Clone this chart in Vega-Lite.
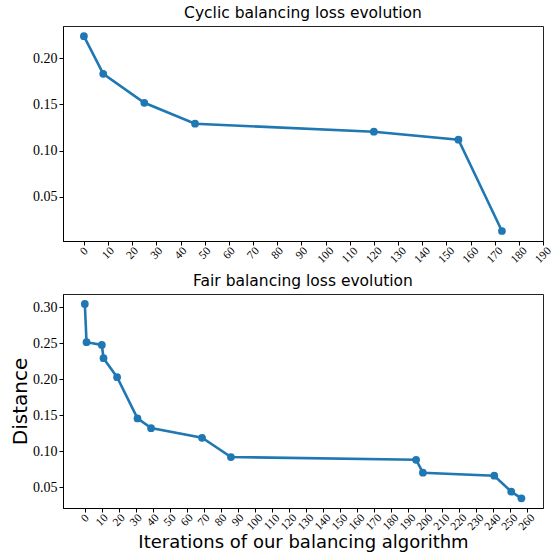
{
  "$schema": "https://vega.github.io/schema/vega-lite/v6.json",
  "background": "white",
  "padding": {"left": 10, "top": 5, "right": 5, "bottom": 0},
  "spacing": 7,
  "config": {
    "view": {"stroke": "#222", "strokeWidth": 1},
    "title": {"font": "DejaVu Sans", "fontSize": 15.5, "fontWeight": "normal", "color": "#000", "frame": "group", "anchor": "middle", "offset": 5},
    "axis": {
      "domainColor": "#000", "tickColor": "#000", "tickSize": 4, "grid": false,
      "labelColor": "#000", "labelFont": "Liberation Serif",
      "titleFont": "DejaVu Sans", "titleFontWeight": "normal", "titleColor": "#000", "titleFontSize": 18
    }
  },
  "datasets": {
    "cyclic": [
      {"iteration": 0, "distance": 0.2236},
      {"iteration": 8, "distance": 0.183},
      {"iteration": 25, "distance": 0.1517},
      {"iteration": 46, "distance": 0.1291},
      {"iteration": 120, "distance": 0.1204},
      {"iteration": 155, "distance": 0.1118},
      {"iteration": 173, "distance": 0.0132}
    ],
    "fair": [
      {"iteration": 0, "distance": 0.3046},
      {"iteration": 1, "distance": 0.2514},
      {"iteration": 10, "distance": 0.2476},
      {"iteration": 11, "distance": 0.2292},
      {"iteration": 19, "distance": 0.2028},
      {"iteration": 31, "distance": 0.1454},
      {"iteration": 39, "distance": 0.1319},
      {"iteration": 69, "distance": 0.1185},
      {"iteration": 86, "distance": 0.0917},
      {"iteration": 195, "distance": 0.0879},
      {"iteration": 199, "distance": 0.0699},
      {"iteration": 241, "distance": 0.0657},
      {"iteration": 251, "distance": 0.0435},
      {"iteration": 257, "distance": 0.0343}
    ]
  },
  "vconcat": [
    {
      "title": "Cyclic balancing loss evolution",
      "width": 480,
      "height": 215,
      "data": {"name": "cyclic"},
      "encoding": {
        "x": {"field": "iteration", "type": "quantitative",
          "scale": {"domain": [-8.65, 190], "nice": false, "zero": false},
          "axis": {"title": null, "values": [0,10,20,30,40,50,60,70,80,90,100,110,120,130,140,150,160,170,180,190],
            "labelAngle": -45, "labelAlign": "center", "labelBaseline": "middle", "labelFontSize": 11.5,
            "labelPadding": {"condition": [{"test": "datum.value < 10", "value": 6}, {"test": "datum.value < 100", "value": 8}], "value": 10},
            "labelOverlap": false}},
        "y": {"field": "distance", "type": "quantitative",
          "scale": {"domain": [0.0024, 0.2346], "nice": false, "zero": false},
          "axis": {"title": null, "values": [0.05, 0.1, 0.15, 0.2], "format": ".2f", "labelFontSize": 14, "labelPadding": 2}}
      },
      "layer": [
        {"mark": {"type": "line", "color": "#1f77b4", "strokeWidth": 2.6}},
        {"mark": {"type": "point", "filled": true, "color": "#1f77b4", "opacity": 1, "size": 60}}
      ]
    },
    {
      "title": "Fair balancing loss evolution",
      "width": 480,
      "height": 214,
      "data": {"name": "fair"},
      "encoding": {
        "x": {"field": "iteration", "type": "quantitative",
          "scale": {"domain": [-12.85, 269.7], "nice": false, "zero": false},
          "axis": {"title": "Iterations of our balancing algorithm", "titlePadding": 2,
            "values": [0,10,20,30,40,50,60,70,80,90,100,110,120,130,140,150,160,170,180,190,200,210,220,230,240,250,260],
            "labelAngle": -45, "labelAlign": "center", "labelBaseline": "middle", "labelFontSize": 11.5,
            "labelPadding": {"condition": [{"test": "datum.value < 10", "value": 6}, {"test": "datum.value < 100", "value": 8}], "value": 10},
            "labelOverlap": false}},
        "y": {"field": "distance", "type": "quantitative",
          "scale": {"domain": [0.0208, 0.3185], "nice": false, "zero": false},
          "axis": {"title": "Distance", "titleFontSize": 20, "titlePadding": 2, "values": [0.05, 0.1, 0.15, 0.2, 0.25, 0.3], "format": ".2f", "labelFontSize": 14, "labelPadding": 2}}
      },
      "layer": [
        {"mark": {"type": "line", "color": "#1f77b4", "strokeWidth": 2.6}},
        {"mark": {"type": "point", "filled": true, "color": "#1f77b4", "opacity": 1, "size": 60}}
      ]
    }
  ]
}
